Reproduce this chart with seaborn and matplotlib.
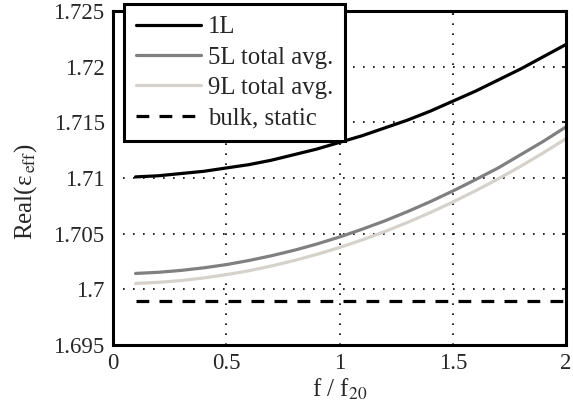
import numpy as np
import pandas as pd
import matplotlib
matplotlib.use("Agg")
import matplotlib.pyplot as plt
from matplotlib.legend_handler import HandlerLine2D
import seaborn as sns

# frequency ratio f / f20
f_ratio = [0.1, 0.2, 0.3, 0.4, 0.5, 0.6, 0.7, 0.8, 0.9, 1.0,
           1.1, 1.2, 1.3, 1.4, 1.5, 1.6, 1.7, 1.8, 1.9, 2.0]

eps_1L = [1.7101, 1.7102, 1.7104, 1.7106, 1.7109, 1.7112, 1.7116, 1.7121, 1.7126, 1.7132,
          1.7138, 1.7145, 1.7152, 1.7160, 1.7169, 1.7178, 1.7188, 1.7198, 1.7209, 1.7220]
eps_5L = [1.70143, 1.70153, 1.70170, 1.70193, 1.70222, 1.70259, 1.70302, 1.70351, 1.70407, 1.70470,
          1.70540, 1.70615, 1.70698, 1.70787, 1.70883, 1.70985, 1.71090, 1.71210, 1.71330, 1.71460]
eps_9L = [1.70053, 1.70063, 1.70079, 1.70102, 1.70132, 1.70167, 1.70210, 1.70259, 1.70314, 1.70376,
          1.70444, 1.70519, 1.70601, 1.70689, 1.70784, 1.70885, 1.70992, 1.71106, 1.71227, 1.71354]
eps_bulk = 1.69895

labels = ["1L", "5L total avg.", "9L total avg.", "bulk, static"]
colors = ["#000000", "#808080", "#d6d2cb", "#000000"]
dash = (0, (4, 3.2))

sns.set_style("white")
plt.rcParams["font.family"] = ["Liberation Serif", "DejaVu Serif"]
plt.rcParams["mathtext.fontset"] = "stix"

df = pd.DataFrame({
    "f": f_ratio * 3,
    "eps": eps_1L + eps_5L + eps_9L,
    "series": [labels[0]] * 20 + [labels[1]] * 20 + [labels[2]] * 20,
})

fig = plt.figure(figsize=(5.73, 4.18), dpi=100)
ax = fig.add_axes([0.197, 0.1746, 0.791, 0.7991])

sns.lineplot(data=df, x="f", y="eps", hue="series", palette=colors[:3],
             hue_order=labels[:3], linewidth=2.3, ax=ax, legend=False)
ax.plot([f_ratio[0], f_ratio[-1]], [eps_bulk, eps_bulk], color="k",
        linestyle=dash, linewidth=2.3)

ax.set_xlim(0, 2)
ax.set_ylim(1.695, 1.725)
ax.set_xticks([0, 0.5, 1, 1.5, 2])
ax.set_xticklabels(["0", "0.5", "1", "1.5", "2"])
ax.set_yticks([1.695, 1.7, 1.705, 1.71, 1.715, 1.72, 1.725])
ax.set_yticklabels(["1.695", "1.7", "1.705", "1.71", "1.715", "1.72", "1.725"])
ax.grid(True, linestyle=(0, (1, 5)), color="k", linewidth=1.2)
ax.tick_params(direction="in", length=3, width=1.5, labelsize=16.5,
               top=True, right=True)
ax.tick_params(axis="y", pad=6)
ax.tick_params(axis="x", pad=6)
for sp in ax.spines.values():
    sp.set_linewidth(2.2)
    sp.set_color("k")

ax.set_xlabel("f / f$_{20}$", fontsize=18, labelpad=2)
ax.set_ylabel("Real(ε$_{\\rm\\,eff}$)", fontsize=18)
ax.yaxis.set_label_coords(-0.163, 0.46)

handles = [plt.Line2D([], [], color=c, linewidth=2.3) for c in colors[:3]]
handles.append(plt.Line2D([], [], color="k", linestyle=dash, linewidth=2.3))
leg = ax.legend(handles, labels, loc="upper left", bbox_to_anchor=(124 / 573, 1 - 4 / 418),
                bbox_transform=fig.transFigure, borderaxespad=0, fontsize=17.8,
                handlelength=2.63, handletextpad=0.28, labelspacing=0.33,
                handler_map={plt.Line2D: HandlerLine2D(marker_pad=0)},
                fancybox=False, framealpha=1, edgecolor="k", borderpad=0.48)
leg.get_frame().set_linewidth(2.2)

fig.savefig("out.png", dpi=100)
